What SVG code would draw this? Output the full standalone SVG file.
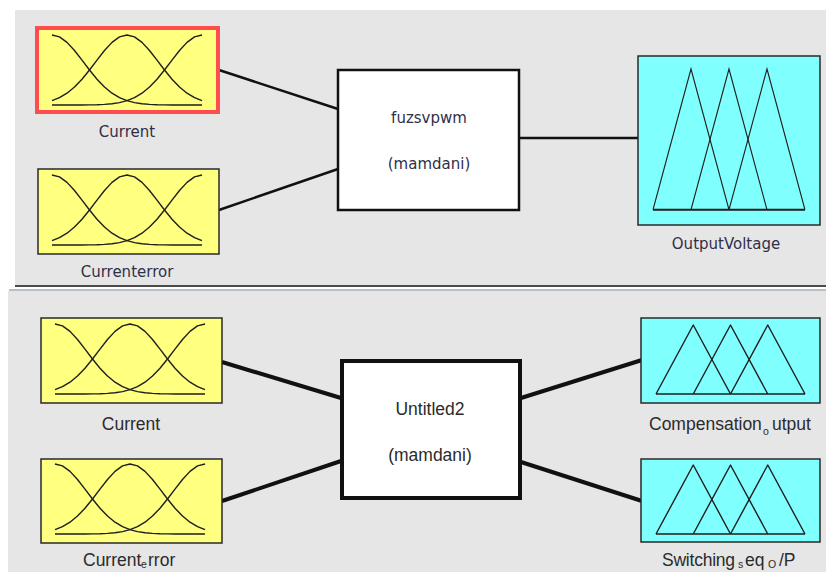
<svg xmlns="http://www.w3.org/2000/svg" xmlns:xlink="http://www.w3.org/1999/xlink" width="826" height="572" viewBox="0 0 826 572">
  <style>
    .panel { fill: #e6e6e6; }
    .inbox { fill: #ffff80; stroke: #2a2a2a; stroke-width: 1.5; }
    .outbox { fill: #80ffff; stroke: #2a2a2a; stroke-width: 1.5; }
    .sysbox { fill: #ffffff; stroke: #111111; }
    .mf { fill: none; stroke: #1e1e1e; stroke-width: 1.4; stroke-linejoin: round; }
    .wire { stroke: #111111; fill: none; stroke-linecap: butt; }
    .lblA { font-family: "DejaVu Sans", sans-serif; font-size: 15px; fill: #2f2f48; text-anchor: middle; }
    .lblB { font-family: "Liberation Sans", Arial, sans-serif; font-size: 17.5px; fill: #2b2b2b; }
    .mid { text-anchor: middle; }
    .sub { font-size: 10.5px; }
  </style>
  <defs>
    <!-- three gaussian membership functions, 150 x 70 -->
    <g id="gauss">
      <polyline class="mf" points="0,0 7.5,1.92 15,7.36 22.5,15.48 30,25.12 37.5,35.04 45,44.25 52.5,52.05 60,58.17 67.5,62.62 75,65.65 82.5,67.57 90,68.72 97.5,69.36 105,69.7 112.5,69.87 120,69.94 150,70"/>
      <polyline class="mf" points="0,65.65 7.5,62.62 15,58.17 22.5,52.05 30,44.25 37.5,35.04 45,25.12 52.5,15.48 60,7.36 67.5,1.92 75,0 82.5,1.92 90,7.36 97.5,15.48 105,25.12 112.5,35.04 120,44.25 127.5,52.05 135,58.17 142.5,62.62 150,65.65"/>
      <polyline class="mf" points="0,70 30,69.94 37.5,69.87 45,69.7 52.5,69.36 60,68.72 67.5,67.57 75,65.65 82.5,62.62 90,58.17 97.5,52.05 105,44.25 112.5,35.04 120,25.12 127.5,15.48 135,7.36 142.5,1.92 150,0"/>
    </g>
    <!-- three triangular membership functions, 149 x 69 -->
    <g id="tri">
      <polyline class="mf" points="0,69 37.25,0 74.5,69"/>
      <polyline class="mf" points="37.25,69 74.5,0 111.75,69"/>
      <polyline class="mf" points="74.5,69 111.75,0 149,69"/>
      <line class="mf" x1="0" y1="69" x2="149" y2="69"/>
    </g>
  </defs>

  <!-- background and panels -->
  <rect x="0" y="0" width="826" height="572" fill="#ffffff"/>
  <rect class="panel" x="15" y="10" width="811" height="275"/>
  <rect x="15" y="285" width="811" height="2" fill="#4a4a4a"/>
  <rect x="9" y="289" width="817" height="2" fill="#b8bfc8"/>
  <rect class="panel" x="8" y="291" width="818" height="281"/>

  <!-- connectors -->
  <g id="connectors">
    <g stroke-width="2.5" class="wire">
      <line x1="219" y1="70" x2="338" y2="109"/>
      <line x1="219" y1="210" x2="338" y2="169"/>
      <line x1="519" y1="138" x2="639" y2="138"/>
    </g>
    <g stroke-width="4" class="wire">
      <line x1="222" y1="362" x2="341" y2="398"/>
      <line x1="222" y1="501" x2="341" y2="461"/>
      <line x1="521" y1="398" x2="642" y2="360"/>
      <line x1="521" y1="462" x2="642" y2="501"/>
    </g>
  </g>

  <!-- upper system: fuzsvpwm -->
  <g id="in-current-1">
    <rect x="37" y="28" width="181" height="84" fill="#ffff80" stroke="#ff4d4d" stroke-width="4"/>
    <use xlink:href="#gauss" x="52" y="35"/>
    <text class="lblA" x="127" y="137">Current</text>
  </g>
  <g id="in-currenterror-1">
    <rect class="inbox" x="38" y="169" width="181" height="85"/>
    <use xlink:href="#gauss" x="52" y="175"/>
    <text class="lblA" x="127" y="277">Currenterror</text>
  </g>
  <g id="sys-fuzsvpwm">
    <rect class="sysbox" x="338" y="70" width="181" height="140" stroke-width="2.5"/>
    <text class="lblA" x="429" y="123">fuzsvpwm</text>
    <text class="lblA" x="429" y="169">(mamdani)</text>
  </g>
  <g id="out-outputvoltage">
    <rect class="outbox" x="638" y="56" width="182" height="169"/>
    <g transform="translate(653,69) scale(1.02,2.04)">
      <polyline points="0,69 37.25,0 74.5,69" fill="none" stroke="#1e1e1e" stroke-width="1"/>
      <polyline points="37.25,69 74.5,0 111.75,69" fill="none" stroke="#1e1e1e" stroke-width="1"/>
      <polyline points="74.5,69 111.75,0 149,69" fill="none" stroke="#1e1e1e" stroke-width="1"/>
      <line x1="0" y1="69" x2="149" y2="69" stroke="#1e1e1e" stroke-width="1"/>
    </g>
    <text class="lblA" x="726" y="249">OutputVoltage</text>
  </g>

  <!-- lower system: Untitled2 -->
  <g id="in-current-2">
    <rect class="inbox" x="41" y="318" width="181" height="85"/>
    <use xlink:href="#gauss" x="55" y="324"/>
    <text class="lblB mid" x="131" y="430">Current</text>
  </g>
  <g id="in-current-error-2">
    <rect class="inbox" x="41" y="459" width="181" height="84"/>
    <use xlink:href="#gauss" x="55" y="464"/>
    <text class="lblB" y="566"><tspan x="83">Current</tspan><tspan class="sub" x="141" dy="2">e</tspan><tspan x="148" dy="-2">rror</tspan></text>
  </g>
  <g id="sys-untitled2">
    <rect class="sysbox" x="342" y="361" width="178" height="137" stroke-width="4"/>
    <text class="lblB mid" x="430" y="415">Untitled2</text>
    <text class="lblB mid" x="430" y="461">(mamdani)</text>
  </g>
  <g id="out-compensation-output">
    <rect class="outbox" x="641" y="318" width="179" height="85"/>
    <use xlink:href="#tri" x="656" y="325"/>
    <text class="lblB" y="430"><tspan x="649">Compensation</tspan><tspan class="sub" x="763" dy="5">o</tspan><tspan x="772" dy="-5">utput</tspan></text>
  </g>
  <g id="out-switching-freq">
    <rect class="outbox" x="641" y="459" width="179" height="83"/>
    <use xlink:href="#tri" x="656" y="465"/>
    <text class="lblB" y="566"><tspan x="662" textLength="73">Switching</tspan><tspan class="sub" x="738" dy="2">s</tspan><tspan x="745" dy="-2">eq</tspan><tspan class="sub" x="768" dy="2">O</tspan><tspan x="779" dy="-2">/P</tspan></text>
  </g>
</svg>
